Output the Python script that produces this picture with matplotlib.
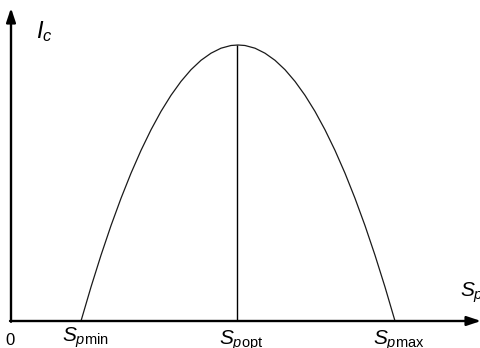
import matplotlib.pyplot as plt

# Schematic I_c vs S_p curve (arbitrary units)
s_p = [70, 80, 90, 100, 110, 120, 130, 140, 150, 160, 170, 180, 190, 200, 210, 220,
       227, 234, 244, 254, 264, 274, 284, 294, 304, 314, 324, 334, 344, 354, 364,
       374, 384]
i_c = [0, 34, 65.8, 95.4, 122.7, 147.8, 170.6, 191.2, 209.6, 225.7, 239.6, 251.3,
       260.7, 267.8, 272.8, 275.5, 276, 275.5, 272.8, 267.8, 260.7, 251.3, 239.6,
       225.7, 209.6, 191.2, 170.6, 147.8, 122.7, 95.4, 65.8, 34, 0]

s_min, s_opt, s_max = 70, 226.5, 384
i_peak = 276
tick_labels = [r'$S_{p\mathrm{min}}$', r'$S_{p\mathrm{opt}}$', r'$S_{p\mathrm{max}}$']

plt.rcParams['mathtext.fontset'] = 'custom'
plt.rcParams['mathtext.it'] = 'Liberation Sans:italic'
plt.rcParams['mathtext.rm'] = 'Liberation Sans'
plt.rcParams['font.family'] = 'Liberation Sans'


def main():
    fig = plt.figure(figsize=(4.81, 3.48), dpi=100)
    ax = fig.add_axes([0, 0, 1, 1])
    ax.set_xlim(-11, 470)
    ax.set_ylim(-27, 321)
    ax.axis('off')

    # axes with arrows
    arrow = dict(arrowstyle='-|>,head_length=0.6,head_width=0.2', lw=1.7,
                 color='black', mutation_scale=14, shrinkA=0, shrinkB=0)
    ax.annotate('', xy=(470, 0), xytext=(-1, 0), arrowprops=arrow)
    ax.annotate('', xy=(0, 313), xytext=(0, -0.8), arrowprops=arrow)

    ax.plot(s_p, i_c, color='#1a1a1a', lw=0.9, solid_joinstyle='round')
    ax.vlines(s_opt, 0, i_peak, color='black', lw=1.0)

    ax.text(-1, -24, '0', fontsize=12, ha='center', va='baseline')
    for s, lab, yb in zip([s_min, s_opt, s_max], tick_labels, [-21, -24, -24]):
        ax.text(s + 4, yb, lab, fontsize=15, ha='center', va='baseline')
    ax.text(449, 24, r'$S_p$', fontsize=15, ha='left', va='baseline')
    ax.text(25, 283, r'$I_c$', fontsize=17, ha='left', va='baseline')

    fig.savefig('out.png', dpi=100)


if __name__ == "__main__":
    main()
